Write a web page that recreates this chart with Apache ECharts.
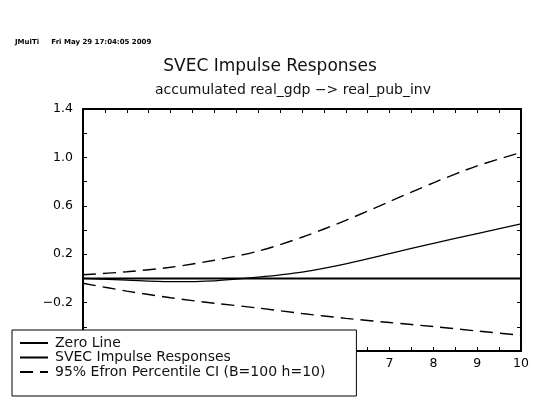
<!DOCTYPE html>
<html>
<head>
<meta charset="utf-8">
<title>SVEC Impulse Responses</title>
<script src="https://cdn.jsdelivr.net/npm/echarts@6/dist/echarts.min.js"></script>
<style>
  html, body {
    margin: 0;
    padding: 0;
    background: #fff;
  }
  #J_chartBox {
    width: 533px;
    height: 404px;
  }
</style>
</head>
<body>
<div id="J_chartBox"></div>
<script>
  // horizon 0..10
  var steps = [0, 1, 2, 3, 4, 5, 6, 7, 8, 9, 10]
  var zeroLine = [0, 0, 0, 0, 0, 0, 0, 0, 0, 0, 0]
  var irf = [0.0, -0.015, -0.027, -0.02, 0.01, 0.052, 0.12, 0.205, 0.29, 0.37, 0.45]
  var ciUpper = [0.03, 0.055, 0.092, 0.15, 0.225, 0.34, 0.48, 0.635, 0.79, 0.93, 1.04]
  var ciLower = [-0.04, -0.105, -0.16, -0.205, -0.245, -0.29, -0.33, -0.365, -0.398, -0.435, -0.47]
  var yLabels = [1.4, 1.0, 0.6, 0.2, -0.2, -0.6]

  var FONT = 'DejaVu Sans'
  var ciName = '95% Efron Percentile CI (B=100 h=10)'

  function pairs (ys) {
    var out = []
    for (var i = 0; i < steps.length; i++) {
      out.push([steps[i], ys[i]])
    }
    return out
  }

  function yFmt (v) {
    for (var i = 0; i < yLabels.length; i++) {
      if (Math.abs(yLabels[i] - v) < 1e-6) {
        var s = Math.abs(v).toFixed(1)
        return v < 0 ? '\u2212' + s : s
      }
    }
    return ''
  }

  function xFmt (v) {
    return Math.abs(v - Math.round(v)) < 1e-6 ? String(Math.round(v)) : ''
  }

  var tickIn = {show: true, inside: true, length: 4, lineStyle: {color: '#000', width: 1}}
  var frame = {show: true, onZero: false, lineStyle: {color: '#000', width: 2}}

  var option = {
    animation: false,
    backgroundColor: '#fff',
    textStyle: {fontFamily: FONT, color: '#000'},
    title: [
      {
        text: 'SVEC Impulse Responses',
        left: 265,
        top: 53,
        textAlign: 'center',
        textStyle: {fontFamily: FONT, fontSize: 17, fontWeight: 'normal', color: '#111'}
      },
      {
        text: 'accumulated real_gdp \u2212> real_pub_inv',
        left: 288,
        top: 78,
        textAlign: 'center',
        textStyle: {fontFamily: FONT, fontSize: 14, fontWeight: 'normal', color: '#111'}
      }
    ],
    graphic: [
      {
        type: 'text',
        left: 15,
        top: 39,
        style: {
          text: 'JMulTi     Fri May 29 17:04:05 2009',
          font: 'bold 7px ' + FONT,
          fill: '#000'
        }
      }
    ],
    legend: {
      orient: 'vertical',
      left: 12,
      top: 330,
      z: 10,
      backgroundColor: '#fff',
      borderColor: '#000',
      borderWidth: 1,
      padding: [6, 31, 17, 7],
      itemGap: 0.5,
      itemWidth: 28,
      itemHeight: 12,
      itemStyle: {color: 'transparent', borderWidth: 0, opacity: 0},
      textStyle: {fontFamily: FONT, fontSize: 14, lineHeight: 13, color: '#111', padding: [0, 0, 0, 2]},
      data: ['Zero Line', 'SVEC Impulse Responses', ciName]
    },
    grid: {
      left: 83,
      right: 12,
      top: 109,
      bottom: 53,
      containLabel: false
    },
    xAxis: [
      {
        type: 'value',
        min: 0,
        max: 10,
        interval: 0.5,
        axisLine: frame,
        axisTick: tickIn,
        splitLine: {show: false},
        axisLabel: {margin: 6, fontFamily: FONT, fontSize: 12.5, color: '#000', formatter: xFmt}
      },
      {
        type: 'value',
        position: 'top',
        min: 0,
        max: 10,
        interval: 0.5,
        axisLine: frame,
        axisTick: tickIn,
        splitLine: {show: false},
        axisLabel: {show: false}
      }
    ],
    yAxis: [
      {
        type: 'value',
        min: -0.6,
        max: 1.4,
        interval: 0.2,
        axisLine: frame,
        axisTick: tickIn,
        splitLine: {show: false},
        axisLabel: {margin: 10, fontFamily: FONT, fontSize: 12.5, color: '#000', formatter: yFmt}
      },
      {
        type: 'value',
        position: 'right',
        min: -0.6,
        max: 1.4,
        interval: 0.2,
        axisLine: frame,
        axisTick: tickIn,
        splitLine: {show: false},
        axisLabel: {show: false}
      }
    ],
    series: [
      {
        name: 'Zero Line',
        type: 'line',
        symbol: 'none',
        data: pairs(zeroLine),
        lineStyle: {color: '#000', width: 2},
        itemStyle: {color: '#000'}
      },
      {
        name: 'SVEC Impulse Responses',
        type: 'line',
        symbol: 'none',
        smooth: 0.3,
        data: pairs(irf),
        lineStyle: {color: '#000', width: 1.3},
        itemStyle: {color: '#000'}
      },
      {
        name: ciName,
        type: 'line',
        symbol: 'none',
        smooth: 0.3,
        data: pairs(ciUpper),
        lineStyle: {color: '#000', width: 1.4, type: [13, 7]},
        itemStyle: {color: '#000'}
      },
      {
        name: ciName,
        type: 'line',
        symbol: 'none',
        smooth: 0.3,
        data: pairs(ciLower),
        lineStyle: {color: '#000', width: 1.4, type: [13, 7]},
        itemStyle: {color: '#000'}
      }
    ]
  }

  var chart = echarts.init(document.getElementById('J_chartBox'), null, {renderer: 'canvas'})
  chart.setOption(option)
  window.addEventListener('resize', function () {
    chart.resize()
  })
</script>
</body>
</html>
